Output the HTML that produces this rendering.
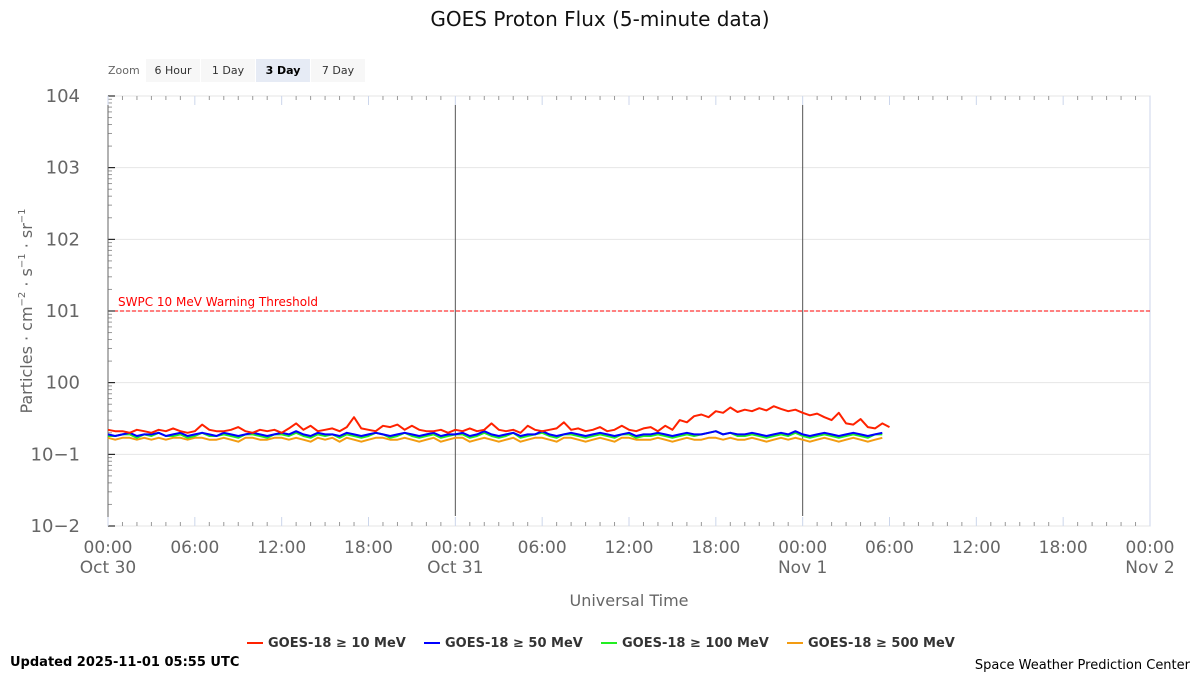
<!DOCTYPE html>
<html><head><meta charset="utf-8">
<style>
body{margin:0;background:#fff;font-family:"Liberation Sans","DejaVu Sans",sans-serif;}
svg text{font-family:"DejaVu Sans","Liberation Sans",sans-serif;}
</style></head>
<body>
<svg id="chart" width="1200" height="675" xmlns="http://www.w3.org/2000/svg">
<rect width="1200" height="675" fill="#fff"/>
<text x="600" y="26" text-anchor="middle" font-size="20" fill="#111">GOES Proton Flux (5-minute data)</text>
<g font-size="11">
<text x="108" y="74" fill="#666">Zoom</text>
<rect x="146" y="59" width="54" height="23" fill="#f7f7f7"/>
<text x="173" y="74" text-anchor="middle" fill="#333">6 Hour</text>
<rect x="201" y="59" width="54" height="23" fill="#f7f7f7"/>
<text x="228" y="74" text-anchor="middle" fill="#333">1 Day</text>
<rect x="256" y="59" width="54" height="23" fill="#e6ebf5"/>
<text x="283" y="74" text-anchor="middle" fill="#000" font-weight="bold">3 Day</text>
<rect x="311" y="59" width="54" height="23" fill="#f7f7f7"/>
<text x="338" y="74" text-anchor="middle" fill="#333">7 Day</text>
</g>
<g id="grid"></g>
<g id="axes"></g>
<g id="series"></g>
<text transform="translate(32,311) rotate(-90)" text-anchor="middle" font-size="16" fill="#666">Particles · cm<tspan font-size="10" dy="-7">−2</tspan><tspan dy="7"> · s</tspan><tspan font-size="10" dy="-7">−1</tspan><tspan dy="7"> · sr</tspan><tspan font-size="10" dy="-7">−1</tspan></text>
<text x="629" y="606" text-anchor="middle" font-size="16" fill="#666">Universal Time</text>
<g font-size="13" font-weight="bold" fill="#333">
<g><line x1="247" y1="643" x2="263" y2="643" stroke="#ff2200" stroke-width="2"/><text x="268" y="647">GOES-18 ≥ 10 MeV</text></g>
<g><line x1="424" y1="643" x2="440" y2="643" stroke="#0000ff" stroke-width="2"/><text x="445" y="647">GOES-18 ≥ 50 MeV</text></g>
<g><line x1="601" y1="643" x2="617" y2="643" stroke="#22ee22" stroke-width="2"/><text x="622" y="647">GOES-18 ≥ 100 MeV</text></g>
<g><line x1="787" y1="643" x2="803" y2="643" stroke="#f39c12" stroke-width="2"/><text x="808" y="647">GOES-18 ≥ 500 MeV</text></g>
</g>
<text x="10" y="666" font-size="13" font-weight="bold" fill="#000">Updated 2025-11-01 05:55 UTC</text>
<text x="1190" y="669" text-anchor="end" font-size="13" fill="#000">Space Weather Prediction Center</text>
</svg>
<script>
const yDecades = [4,3,2,1,0,-1,-2];
const xTickHours = [0,6,12,18,24,30,36,42,48,54,60,66,72];
const xTickLabels = ["00:00","06:00","12:00","18:00","00:00","06:00","12:00","18:00","00:00","06:00","12:00","18:00","00:00"];
const xDateLabels = ["Oct 30","","","","Oct 31","","","","Nov 1","","","","Nov 2"];
const dayLineHours = [24,48];
const thresholdValue = 10;
const red = [0.22,0.21,0.21,0.20,0.22,0.21,0.20,0.22,0.21,0.23,0.21,
0.20,0.21,0.26,0.22,0.21,0.21,0.22,0.24,0.21,0.20,0.22,
0.21,0.22,0.20,0.23,0.27,0.22,0.25,0.21,0.22,0.23,0.21,
0.24,0.33,0.23,0.22,0.21,0.25,0.24,0.26,0.22,0.25,0.22,
0.21,0.21,0.22,0.20,0.22,0.21,0.23,0.21,0.22,0.27,0.22,
0.21,0.22,0.20,0.25,0.22,0.21,0.22,0.23,0.28,0.22,0.23,
0.21,0.22,0.24,0.21,0.22,0.25,0.22,0.21,0.23,0.24,0.21,
0.25,0.22,0.30,0.28,0.34,0.36,0.33,0.40,0.38,0.45,0.39,
0.42,0.40,0.44,0.41,0.47,0.43,0.40,0.42,0.38,0.35,0.37,
0.33,0.30,0.38,0.27,0.26,0.31,0.24,0.23,0.27,0.24];
const blue = [0.19,0.18,0.19,0.20,0.18,0.19,0.19,0.20,0.18,0.19,0.20,
0.18,0.19,0.20,0.19,0.18,0.20,0.19,0.18,0.19,0.20,0.19,
0.18,0.19,0.20,0.19,0.21,0.19,0.18,0.20,0.19,0.19,0.18,
0.20,0.19,0.18,0.19,0.20,0.19,0.18,0.19,0.20,0.19,0.18,
0.19,0.20,0.18,0.19,0.19,0.20,0.18,0.19,0.21,0.19,0.18,
0.19,0.20,0.18,0.19,0.19,0.21,0.19,0.18,0.19,0.20,0.19,
0.18,0.19,0.20,0.19,0.18,0.19,0.20,0.18,0.19,0.19,0.20,
0.19,0.18,0.19,0.20,0.19,0.19,0.20,0.21,0.19,0.20,0.19,
0.19,0.20,0.19,0.18,0.19,0.20,0.19,0.21,0.19,0.18,0.19,
0.20,0.19,0.18,0.19,0.20,0.19,0.18,0.19,0.20];
const green = [0.18,0.18,0.19,0.19,0.17,0.19,0.18,0.20,0.18,0.18,0.19,
0.17,0.18,0.20,0.18,0.18,0.19,0.18,0.17,0.19,0.19,0.18,
0.17,0.19,0.19,0.18,0.20,0.18,0.17,0.19,0.18,0.19,0.17,
0.19,0.18,0.17,0.18,0.20,0.19,0.17,0.18,0.20,0.18,0.17,
0.18,0.19,0.17,0.18,0.19,0.19,0.17,0.18,0.20,0.18,0.17,
0.18,0.20,0.17,0.18,0.19,0.20,0.18,0.17,0.19,0.19,0.18,
0.17,0.18,0.19,0.18,0.17,0.19,0.19,0.17,0.18,0.18,0.19,
0.18,0.17,0.18,0.19,0.18,0.19,0.20,0.21,0.19,0.20,0.18,
0.18,0.19,0.18,0.17,0.18,0.19,0.18,0.20,0.18,0.17,0.18,
0.19,0.18,0.17,0.18,0.19,0.18,0.17,0.19,0.19];
const orange = [0.17,0.16,0.17,0.17,0.16,0.17,0.16,0.17,0.16,0.17,0.17,
0.16,0.17,0.17,0.16,0.16,0.17,0.16,0.15,0.17,0.17,0.16,
0.16,0.17,0.17,0.16,0.17,0.16,0.15,0.17,0.16,0.17,0.15,
0.17,0.16,0.15,0.16,0.17,0.17,0.16,0.16,0.17,0.16,0.15,
0.16,0.17,0.15,0.16,0.17,0.17,0.15,0.16,0.17,0.16,0.15,
0.16,0.17,0.15,0.16,0.17,0.17,0.16,0.15,0.17,0.17,0.16,
0.15,0.16,0.17,0.16,0.15,0.17,0.17,0.16,0.16,0.16,0.17,
0.16,0.15,0.16,0.17,0.16,0.16,0.17,0.17,0.16,0.17,0.16,
0.16,0.17,0.16,0.15,0.16,0.17,0.16,0.17,0.16,0.15,0.16,
0.17,0.16,0.15,0.16,0.17,0.16,0.15,0.16,0.17];
const stepHours = 0.5;

const NS="http://www.w3.org/2000/svg";
const L=108,R=1150,T=96,B=526;
const xScale=h=>L+(R-L)*h/72;
const yScale=v=>B-(B-T)*(Math.log10(v)+2)/6;
function mk(tag,attrs,parent){const e=document.createElementNS(NS,tag);for(const k in attrs)e.setAttribute(k,attrs[k]);parent.appendChild(e);return e;}
const grid=document.getElementById('grid'),axes=document.getElementById('axes'),series=document.getElementById('series');
mk('rect',{x:L,y:T,width:R-L,height:B-T,fill:'none',stroke:'#ccd6eb'},grid);
yDecades.forEach(d=>{
  const y=yScale(Math.pow(10,d));
  const gl=mk('line',{x1:L,x2:R,y1:y,y2:y,stroke:'#e6e6e6'},grid);
  
  
  const t=mk('text',{x:80,y:y+6,'text-anchor':'end','font-size':18,fill:'#666'},axes);
  t.textContent='10'+(d<0?'−'+(-d):d);
  
  
  mk('line',{x1:L,x2:L+7,y1:y,y2:y,stroke:'#000'},axes);
  if(d>-2){for(let m=2;m<10;m++){const ym=yScale(m*Math.pow(10,d-1));mk('line',{x1:L,x2:L+4,y1:ym,y2:ym,stroke:'#999'},axes);}}
});
mk('line',{x1:L,x2:L,y1:T,y2:B,stroke:'#666'},axes);
for(let h=0;h<=72;h++){const x=xScale(h);const maj=h%6===0;
  mk('line',{x1:x,x2:x,y1:B,y2:B-(maj?9:4),stroke:maj?'#ccd6eb':'#999'},axes);
  mk('line',{x1:x,x2:x,y1:T,y2:T+(maj?9:4),stroke:maj?'#ccd6eb':'#999'},axes);}
xTickHours.forEach((h,i)=>{
  const t=mk('text',{x:xScale(h),y:553,'text-anchor':'middle','font-size':17,fill:'#666'},axes);
  t.textContent=xTickLabels[i];
  
  
  if(xDateLabels[i]){const d=mk('text',{x:xScale(h),y:573,'text-anchor':'middle','font-size':17,fill:'#666'},axes);
    d.textContent=xDateLabels[i];
    
    }
});
dayLineHours.forEach(h=>{const l=mk('line',{x1:xScale(h),x2:xScale(h),y1:105,y2:516,stroke:'#555'},grid);
  
  });
const ty=yScale(thresholdValue);
const th=mk('line',{x1:L,x2:R,y1:ty,y2:ty,stroke:'#ff0000','stroke-dasharray':'4,2'},grid);


const tl=mk('text',{x:118,y:ty-5,'font-size':12,fill:'#ff0000'},grid);
tl.textContent='SWPC 10 MeV Warning Threshold';


[[orange,'#f39c12','series-500mev'],[green,'#22ee22','series-100mev'],[blue,'#0000ff','series-50mev'],[red,'#ff2200','series-10mev']].forEach(([arr,c,n])=>{
  const pts=arr.map((v,i)=>xScale(i*stepHours).toFixed(1)+','+yScale(v).toFixed(1)).join(' ');
  const p=mk('polyline',{points:pts,fill:'none',stroke:c,'stroke-width':2,'stroke-linejoin':'round'},series);
  
  
});
</script>
</body></html>
